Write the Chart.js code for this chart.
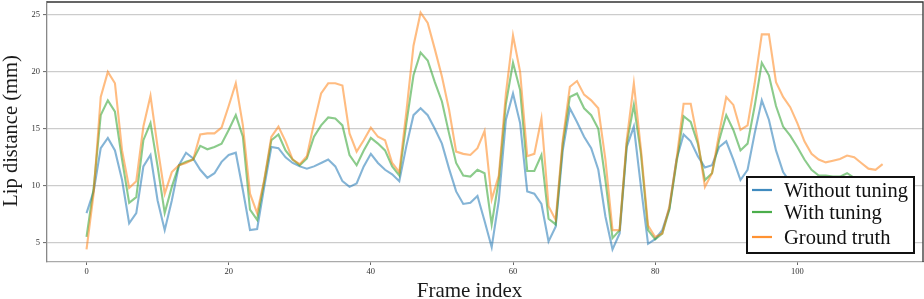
<!DOCTYPE html>
<html><head><meta charset="utf-8">
<script src="https://cdn.jsdelivr.net/npm/chart.js@4/dist/chart.umd.min.js"></script>
<style>html,body{margin:0;padding:0;background:#fff}canvas{display:block}</style>
</head><body>
<canvas id="c" width="924" height="299"></canvas>
<script>
const frames = [0,1,2,3,4,5,6,7,8,9,10,11,12,13,14,15,16,17,18,19,20,21,22,23,24,25,26,27,28,29,30,31,32,33,34,35,36,37,38,39,40,41,42,43,44,45,46,47,48,49,50,51,52,53,54,55,56,57,58,59,60,61,62,63,64,65,66,67,68,69,70,71,72,73,74,75,76,77,78,79,80,81,82,83,84,85,86,87,88,89,90,91,92,93,94,95,96,97,98,99,100,101,102,103,104,105,106,107,108,109,110,111,112];
const withoutTuning = [7.6,9.5,13.3,14.2,13.1,10.5,6.7,7.6,11.7,12.7,8.7,6.1,8.7,11.8,12.9,12.4,11.4,10.7,11.1,12.1,12.7,12.9,9.6,6.1,6.2,9.9,13.4,13.3,12.5,12.0,11.7,11.5,11.7,12.0,12.3,11.7,10.4,9.9,10.2,11.7,12.8,12.0,11.4,11.0,10.4,13.5,16.2,16.8,16.2,15.0,13.7,11.5,9.5,8.4,8.5,9.1,6.9,4.6,8.7,15.8,18.1,15.5,9.5,9.3,8.4,5.1,6.4,13.1,16.8,15.6,14.3,13.3,11.4,7.3,4.4,5.8,13.4,15.2,9.9,4.9,5.3,6.1,8.0,12.3,14.5,13.9,12.6,11.6,11.8,13.4,13.9,12.3,10.5,11.4,14.6,17.5,15.8,13.1,11.2,10.3,9.8,9.6,9.5,9.6,9.7,9.6,9.5,9.7,9.6,9.4,9.3,9.2,9.4];
const withTuning = [5.5,9.8,16.2,17.5,16.5,12.3,8.5,9.0,14.0,15.5,11.7,7.6,9.9,11.8,12.1,12.3,13.5,13.2,13.4,13.7,14.9,16.2,14.3,7.9,7.0,10.4,14.0,14.5,13.1,12.3,11.8,12.4,14.3,15.3,16.0,15.9,15.3,12.7,11.8,13.1,14.2,13.7,13.1,11.7,10.9,15.5,19.7,21.7,21.0,19.1,17.4,14.6,12.0,10.9,10.8,11.4,11.1,6.6,10.5,17.2,20.8,18.4,11.3,11.3,12.7,7.1,6.6,13.7,17.8,18.1,16.8,16.2,15.0,10.5,5.4,6.1,13.7,17.1,12.8,6.1,5.3,5.8,7.9,12.0,16.1,15.6,13.7,10.5,11.1,14.0,16.2,14.9,13.1,13.7,17.0,20.8,19.7,17.0,15.2,14.4,13.4,12.3,11.4,10.9,10.9,10.8,10.8,11.1,10.7,10.5,10.4,10.3,10.4];
const groundTruth = [4.4,9.3,17.8,20.0,19.0,13.1,9.8,10.4,15.2,17.9,13.4,9.3,11.2,11.8,12.0,12.3,14.5,14.6,14.6,15.1,17.0,19.0,15.3,9.3,7.6,10.5,14.3,15.2,13.9,12.3,11.9,12.6,15.5,18.1,19.0,19.0,18.8,14.6,13.0,14.0,15.1,14.3,14.0,12.0,11.2,16.5,22.3,25.2,24.3,22.0,19.6,16.7,13.0,12.8,12.7,13.3,14.8,8.8,10.9,18.1,23.2,20.0,12.6,12.8,15.9,8.2,7.0,14.0,18.7,19.2,18.0,17.5,16.8,12.3,6.1,6.1,14.0,19.0,13.2,6.5,5.5,5.8,8.2,12.3,17.2,17.2,14.0,9.9,11.1,14.6,17.8,17.1,14.9,15.3,19.0,23.3,23.3,19.1,17.8,16.9,15.5,13.9,12.8,12.3,12.05,12.2,12.35,12.65,12.5,12.0,11.5,11.4,11.9];
const seriesNames = ['Without tuning','With tuning','Ground truth'];
const xTicks = [0,20,40,60,80,100];
const yTicks = [5,10,15,20,25];
const xTitle = 'Frame index';
const yTitle = 'Lip distance (mm)';

const lineColors = ['rgba(31,119,180,0.55)','rgba(44,160,44,0.55)','rgba(255,127,14,0.52)'];
const legendColors = ['rgba(31,119,180,0.85)','rgba(44,160,44,0.85)','rgba(255,127,14,0.85)'];
const seriesData = [withoutTuning, withTuning, groundTruth];

const datasets = seriesData.map((vals, k) => ({
  label: seriesNames[k],
  data: vals.map((v, i) => ({x: frames[i], y: v})),
  borderColor: lineColors[k],
  borderWidth: 2.1,
  pointRadius: 0,
  tension: 0,
  fill: false,
  order: 3 - k
}));

const SERIF = '"Liberation Serif", "Times New Roman", serif';

const decor = {
  id: 'decor',
  afterDraw(chart) {
    const ctx = chart.ctx, a = chart.chartArea;
    ctx.save();
    ctx.strokeStyle = '#333';
    ctx.lineWidth = 1.3;
    ctx.beginPath();
    ctx.moveTo(a.left, a.top); ctx.lineTo(a.right, a.top); ctx.lineTo(a.right, a.bottom);
    ctx.stroke();
    ctx.fillStyle = '#1a1a1a';
    ctx.font = '21px ' + SERIF;
    ctx.textAlign = 'center';
    ctx.textBaseline = 'alphabetic';
    ctx.fillText(xTitle, 469.5, 297);
    ctx.translate(16.5, 131);
    ctx.rotate(-Math.PI / 2);
    ctx.font = '20.5px ' + SERIF;
    ctx.fillText(yTitle, 0, 0);
    ctx.restore();
    ctx.save();
    const bx = 747, by = 177, bw = 167, bh = 76;
    ctx.fillStyle = '#fff';
    ctx.fillRect(bx, by, bw, bh);
    ctx.strokeStyle = '#111';
    ctx.lineWidth = 2;
    ctx.strokeRect(bx, by, bw, bh);
    ctx.font = '20.5px ' + SERIF;
    ctx.textAlign = 'left';
    ctx.textBaseline = 'alphabetic';
    const rows = [190, 212, 237];
    chart.data.datasets.forEach((ds, k) => {
      ctx.strokeStyle = legendColors[k];
      ctx.lineWidth = 2.2;
      ctx.beginPath();
      ctx.moveTo(752, rows[k]); ctx.lineTo(772, rows[k]);
      ctx.stroke();
      ctx.fillStyle = '#111';
      ctx.fillText(ds.label, 784, rows[k] + 7);
    });
    ctx.restore();
  }
};

new Chart(document.getElementById('c'), {
  type: 'line',
  data: { datasets },
  options: {
    responsive: false,
    animation: false,
    layout: { padding: { top: 2, right: 1, left: 0, bottom: 0 } },
    plugins: { legend: { display: false }, tooltip: { enabled: false } },
    scales: {
      x: {
        type: 'linear',
        min: -5.56, max: 117.68,
        afterFit(s) { s.height = 37; s.paddingLeft = 0; s.paddingRight = 0; s.paddingTop = 0; s.paddingBottom = 0; },
        afterBuildTicks(s) { s.ticks = xTicks.map(v => ({ value: v })); },
        grid: { display: true, drawOnChartArea: false, drawTicks: true, tickLength: 3, tickColor: '#666', tickWidth: 1 },
        border: { display: true, color: '#aaa', width: 1.3 },
        ticks: { padding: 2, color: '#333', font: { size: 8.5, family: SERIF }, maxRotation: 0, autoSkip: false }
      },
      y: {
        type: 'linear',
        min: 3.3, max: 26.14,
        afterFit(s) { s.width = 47; s.paddingLeft = 0; s.paddingRight = 0; s.paddingTop = 0; s.paddingBottom = 0; },
        afterBuildTicks(s) { s.ticks = yTicks.map(v => ({ value: v })); },
        grid: { color: 'rgba(0,0,0,0.2)', lineWidth: 1.2, drawTicks: true, tickLength: 4, tickColor: '#666', tickWidth: 1 },
        border: { display: true, color: '#888', width: 1.3 },
        ticks: { padding: 3, color: '#333', font: { size: 8.5, family: SERIF }, autoSkip: false }
      }
    }
  },
  plugins: [decor]
});
</script>
</body></html>
